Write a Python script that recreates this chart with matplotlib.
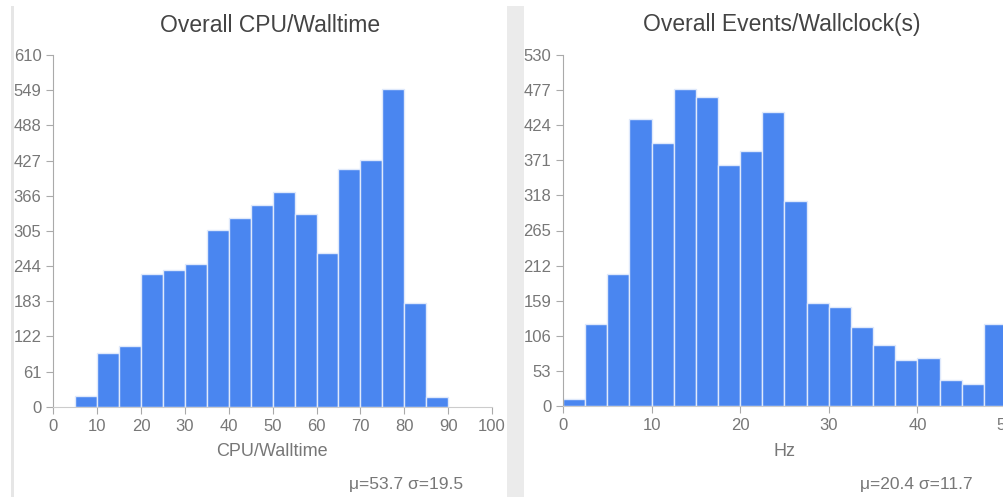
import matplotlib
matplotlib.use("Agg")
import matplotlib.pyplot as plt
from matplotlib.patches import Rectangle

plt.rcParams['font.family'] = ['Liberation Sans', 'DejaVu Sans']

# ---- data ----
cpu_bin_left = [5, 10, 15, 20, 25, 30, 35, 40, 45, 50, 55, 60, 65, 70, 75, 80, 85]
cpu_bin_width = 5
cpu_counts = [19, 94, 105, 231, 237, 247, 306, 328, 350, 372, 334, 266, 412, 428, 551, 179, 17]
cpu_yticks = [0, 61, 122, 183, 244, 305, 366, 427, 488, 549, 610]
cpu_xticks = [0, 10, 20, 30, 40, 50, 60, 70, 80, 90, 100]

hz_bin_left = [0, 2.5, 5, 7.5, 10, 12.5, 15, 17.5, 20, 22.5, 25, 27.5, 30, 32.5, 35,
               37.5, 40, 42.5, 45, 47.5]
hz_bin_width = 2.5
hz_counts = [11, 124, 199, 434, 397, 478, 467, 364, 385, 444, 310, 156, 150, 119, 92,
             69, 72, 40, 33, 124]
hz_yticks = [0, 53, 106, 159, 212, 265, 318, 371, 424, 477, 530]
hz_xticks = [0, 10, 20, 30, 40, 50]

titles = ["Overall CPU/Walltime", "Overall Events/Wallclock(s)"]
xlabels = ["CPU/Walltime", "Hz"]
stats = ["μ=53.7 σ=19.5", "μ=20.4 σ=11.7"]

BAR = "#4a86f0"
TXT = "#777777"

W, H = 1004, 497
fig = plt.figure(figsize=(W / 100, H / 100), dpi=100)
fig.patch.set_facecolor("white")

def fx(px):
    return px / W

def fy(py):
    return 1 - py / H

# background decorations (panel borders)
fig.add_artist(Rectangle((fx(11.5), 0), fx(3), fy(6), transform=fig.transFigure,
                         facecolor="#e6e6e6", edgecolor="none", zorder=0))
fig.add_artist(Rectangle((fx(507), 0), fx(17), fy(6), transform=fig.transFigure,
                         facecolor="#ebebeb", edgecolor="none", zorder=0))

def style(ax):
    for s in ["top", "right"]:
        ax.spines[s].set_visible(False)
    ax.spines["left"].set_color("#aaaaaa")
    ax.spines["bottom"].set_color("#cccccc")
    ax.tick_params(axis="both", colors="#aaaaaa", labelcolor=TXT, labelsize=12,
                   length=5, width=0.8)
    ax.set_facecolor("none")

# left panel
ax1 = fig.add_axes([fx(53.3), fy(406.7), fx(492 - 53.3), fy(55) - fy(406.7)])
ax1.bar(cpu_bin_left, cpu_counts, width=cpu_bin_width, align="edge",
        color=BAR, edgecolor="#dfe9fb", linewidth=1.0)
ax1.set_xlim(0, 100)
ax1.set_ylim(0, 610)
ax1.set_xticks(cpu_xticks)
ax1.set_yticks(cpu_yticks)
style(ax1)

# right panel
ax2 = fig.add_axes([fx(563), fy(406), fx(1006 - 563), fy(55) - fy(406)])
ax2.bar(hz_bin_left, hz_counts, width=hz_bin_width, align="edge",
        color=BAR, edgecolor="#dfe9fb", linewidth=1.0)
ax2.set_xlim(0, 50)
ax2.set_ylim(0, 530)
ax2.set_xticks(hz_xticks)
ax2.set_yticks(hz_yticks)
style(ax2)

# titles, axis labels, stats
fig.text(fx(270), fy(25), titles[0], ha="center", va="center", fontsize=16.5, color="#444444")
fig.text(fx(782), fy(25), titles[1], ha="center", va="center", fontsize=16.5, color="#444444")
fig.text(fx(272), fy(452), xlabels[0], ha="center", va="center", fontsize=13, color=TXT)
fig.text(fx(785), fy(452), xlabels[1], ha="center", va="center", fontsize=13, color=TXT)
fig.text(fx(463), fy(484.5), stats[0], ha="right", va="center", fontsize=12.5, color=TXT)
fig.text(fx(973), fy(484.5), stats[1], ha="right", va="center", fontsize=12.5, color=TXT)

fig.savefig("out.png", dpi=100)
